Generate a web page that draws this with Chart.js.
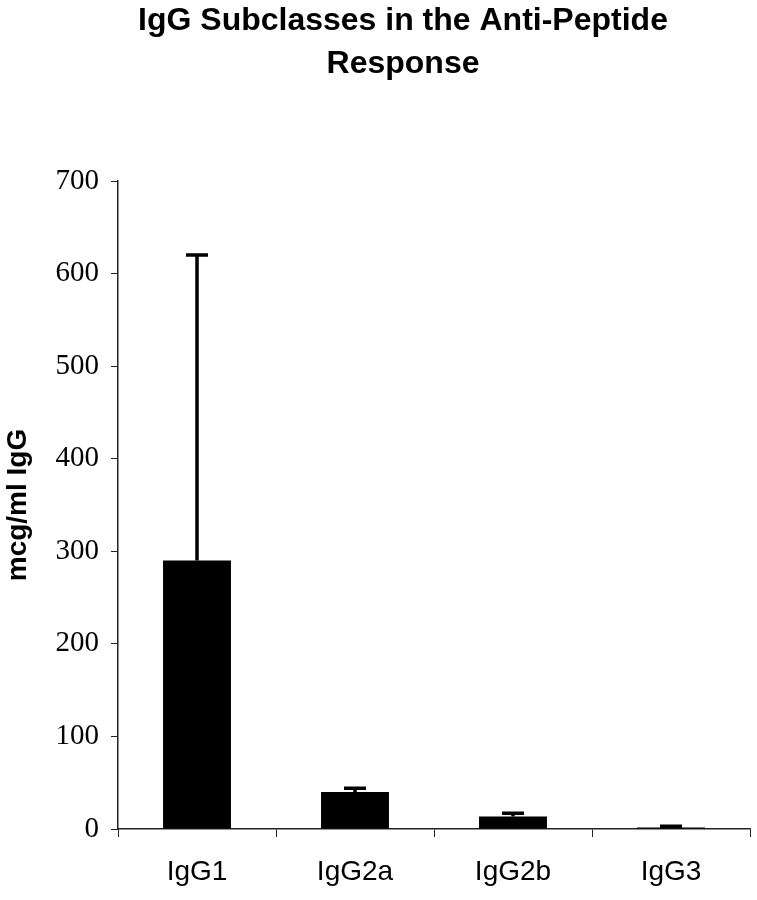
<!DOCTYPE html>
<html>
<head>
<meta charset="utf-8">
<script src="https://cdn.jsdelivr.net/npm/chart.js@4"></script>
<style>
  html, body { margin: 0; padding: 0; background: #fff; }
  #wrap { width: 757px; height: 900px; }
</style>
</head>
<body>
<div id="wrap"><canvas id="chart" width="757" height="900"></canvas></div>
<script>
const titleLines = ["IgG Subclasses in the Anti-Peptide", "Response"];
const categories = ["IgG1", "IgG2a", "IgG2b", "IgG3"];
const means = [290, 40, 13.5, 1.5];
const errors = [330, 4, 3.5, 1.5]; // upper error only
const yTicks = [0, 100, 200, 300, 400, 500, 600, 700];

// titre en haut
const titlePlugin = {
  id: "topTitle",
  afterDraw(chart) {
    const ctx = chart.ctx;
    ctx.save();
    ctx.fillStyle = "#000";
    ctx.font = "bold 32px 'Liberation Sans', Arial, sans-serif";
    ctx.textAlign = "center";
    ctx.textBaseline = "alphabetic";
    ctx.fillText(titleLines[0], 403, 30);
    ctx.fillText(titleLines[1], 403, 73);
    ctx.restore();
  }
};

// barres d'erreur (vers le haut seulement)
const errorBars = {
  id: "errorBars",
  afterDatasetsDraw(chart) {
    const ctx = chart.ctx;
    const meta = chart.getDatasetMeta(0);
    const y = chart.scales.y;
    ctx.save();
    ctx.strokeStyle = "#000";
    ctx.lineWidth = 3.5;
    meta.data.forEach((bar, i) => {
      const y0 = y.getPixelForValue(means[i]);
      const y1 = y.getPixelForValue(means[i] + errors[i]);
      ctx.beginPath();
      ctx.moveTo(bar.x, y0);
      ctx.lineTo(bar.x, y1);
      ctx.moveTo(bar.x - 11, y1);
      ctx.lineTo(bar.x + 11, y1);
      ctx.stroke();
    });
    ctx.restore();
  }
};

new Chart(document.getElementById("chart"), {
  type: "bar",
  data: {
    labels: categories,
    datasets: [{
      data: means,
      backgroundColor: "#000",
      borderWidth: 0,
      categoryPercentage: 1,
      barPercentage: 0.43
    }]
  },
  options: {
    responsive: false,
    animation: false,
    layout: { padding: { top: 181, right: 7, bottom: 0, left: 0 } },
    plugins: { legend: { display: false }, tooltip: { enabled: false } },
    scales: {
      x: {
        afterFit(s) { s.height = 71; },
        grid: { drawOnChartArea: false, drawTicks: true, tickLength: 8, color: "#222", offset: true },
        border: { color: "#222", width: 1.5 },
        ticks: { color: "#000", padding: 18, font: { family: "'Liberation Sans', Arial, sans-serif", size: 28 } }
      },
      y: {
        min: 0,
        max: 700,
        afterFit(s) { s.width = 118; },
        afterBuildTicks(s) { s.ticks = yTicks.map(v => ({ value: v })); },
        grid: { drawOnChartArea: false, drawTicks: true, tickLength: 7, color: "#222" },
        border: { color: "#222", width: 1.5 },
        ticks: { color: "#000", padding: 12, font: { family: "'Liberation Serif', 'Times New Roman', serif", size: 29 } },
        title: {
          display: true,
          text: "mcg/ml IgG",
          color: "#000",
          padding: { top: 1, bottom: 0 },
          font: { family: "'Liberation Sans', Arial, sans-serif", size: 28, weight: "bold", lineHeight: 1.2 }
        }
      }
    }
  },
  plugins: [titlePlugin, errorBars]
});
</script>
</body>
</html>
